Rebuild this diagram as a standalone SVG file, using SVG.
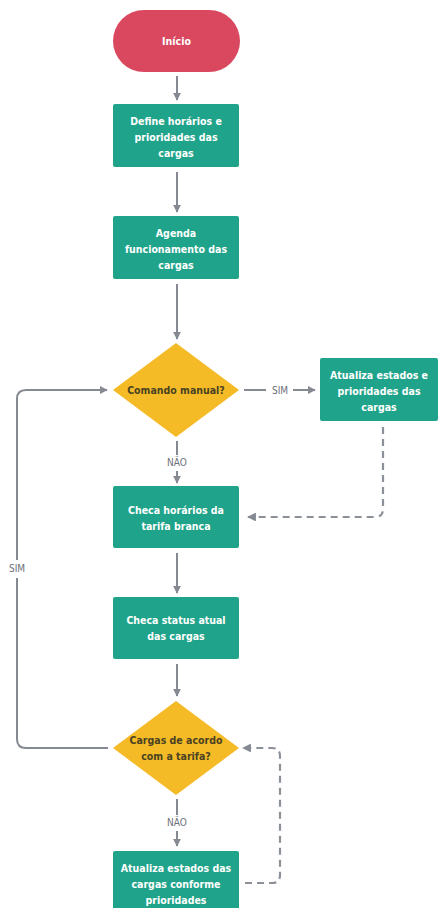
<svg xmlns="http://www.w3.org/2000/svg" width="438" height="908" viewBox="0 0 438 908">
<style>
  .proc { fill: #1fa38a; }
  .dec { fill: #f4bb26; }
  .start { fill: #d9485f; }
  .t { font-family: "DejaVu Sans Condensed", "Liberation Sans", sans-serif; font-size: 10.5px; font-weight: bold; fill: #ffffff; text-anchor: middle; }
  .td { font-family: "DejaVu Sans Condensed", "Liberation Sans", sans-serif; font-size: 10.5px; font-weight: bold; fill: #4a4222; text-anchor: middle; }
  .lbl { font-family: "DejaVu Sans Condensed", "Liberation Sans", sans-serif; font-size: 10px; fill: #6c7078; text-anchor: middle; }
  .c { fill: none; stroke: #858a92; stroke-width: 2; }
  .dash { fill: none; stroke: #8c9098; stroke-width: 2.2; stroke-dasharray: 7 5; }
</style>
<defs>
  <marker id="ah" viewBox="0 0 10 10" refX="9" refY="5" markerWidth="4" markerHeight="4" orient="auto">
    <path d="M0,0 L10,5 L0,10 z" fill="#858a92"/>
  </marker>
</defs>
<rect width="438" height="908" fill="#ffffff"/>

<g id="connectors">
  <line class="c" x1="177" y1="76" x2="177" y2="100" marker-end="url(#ah)"/>
  <line class="c" x1="177" y1="172" x2="177" y2="212" marker-end="url(#ah)"/>
  <line class="c" x1="177" y1="284" x2="177" y2="339" marker-end="url(#ah)"/>
  <!-- SIM to right -->
  <line class="c" x1="244" y1="390" x2="266" y2="390"/>
  <text class="lbl" x="280" y="394">SIM</text>
  <line class="c" x1="293" y1="390" x2="315" y2="390" marker-end="url(#ah)"/>
  <!-- NAO 1 -->
  <line class="c" x1="177" y1="441" x2="177" y2="455"/>
  <text class="lbl" x="177" y="466">NÃO</text>
  <line class="c" x1="177" y1="471" x2="177" y2="483" marker-end="url(#ah)"/>
  <!-- dashed from box3 -->
  <path class="dash" d="M383,427 L383,509 Q383,517 375,517 L248,517" marker-end="url(#ah)"/>
  <line class="c" x1="177" y1="553" x2="177" y2="593" marker-end="url(#ah)"/>
  <line class="c" x1="177" y1="664" x2="177" y2="696" marker-end="url(#ah)"/>
  <!-- SIM loop -->
  <path class="c" d="M108,748 L26,748 Q17,748 17,739 L17,578"/>
  <path class="c" d="M17,560 L17,399 Q17,390 26,390 L107,390" marker-end="url(#ah)"/>
  <text class="lbl" x="17" y="572">SIM</text>
  <!-- NAO 2 -->
  <line class="c" x1="177" y1="799" x2="177" y2="815"/>
  <text class="lbl" x="177" y="826">NÃO</text>
  <line class="c" x1="177" y1="831" x2="177" y2="846" marker-end="url(#ah)"/>
  <!-- dashed from box6 -->
  <path class="dash" d="M245,883 L272,883 Q280,883 280,875 L280,756 Q280,748 272,748 L243,748" marker-end="url(#ah)"/>
</g>

<g id="inicio">
  <rect class="start" x="113" y="10" width="127" height="62" rx="31"/>
  <text class="t" x="176.5" y="45">Início</text>
</g>
<g id="define">
  <rect class="proc" x="113" y="104" width="126" height="63" rx="2"/>
  <text class="t" x="176" y="125">Define horários e</text>
  <text class="t" x="176" y="141">prioridades das</text>
  <text class="t" x="176" y="157">cargas</text>
</g>
<g id="agenda">
  <rect class="proc" x="113" y="216" width="126" height="63" rx="2"/>
  <text class="t" x="176" y="237">Agenda</text>
  <text class="t" x="176" y="253">funcionamento das</text>
  <text class="t" x="176" y="269">cargas</text>
</g>
<g id="comando">
  <polygon class="dec" points="176,343 239,390 176,437 113,390"/>
  <text class="td" x="176" y="394">Comando manual?</text>
</g>
<g id="atualiza1">
  <rect class="proc" x="320" y="358" width="118" height="63" rx="2"/>
  <text class="t" x="379" y="379">Atualiza estados e</text>
  <text class="t" x="379" y="395">prioridades das</text>
  <text class="t" x="379" y="411">cargas</text>
</g>
<g id="checa1">
  <rect class="proc" x="113" y="486" width="126" height="62" rx="2"/>
  <text class="t" x="176" y="514">Checa horários da</text>
  <text class="t" x="176" y="530">tarifa branca</text>
</g>
<g id="checa2">
  <rect class="proc" x="113" y="597" width="126" height="62" rx="2"/>
  <text class="t" x="176" y="624">Checa status atual</text>
  <text class="t" x="176" y="640">das cargas</text>
</g>
<g id="cargas">
  <polygon class="dec" points="176,701 239,748 176,795 113,748"/>
  <text class="td" x="176" y="744">Cargas de acordo</text>
  <text class="td" x="176" y="760">com a tarifa?</text>
</g>
<g id="atualiza2">
  <rect class="proc" x="113" y="851" width="126" height="62" rx="2"/>
  <text class="t" x="176" y="872">Atualiza estados das</text>
  <text class="t" x="176" y="888">cargas conforme</text>
  <text class="t" x="176" y="904">prioridades</text>
</g>
</svg>
